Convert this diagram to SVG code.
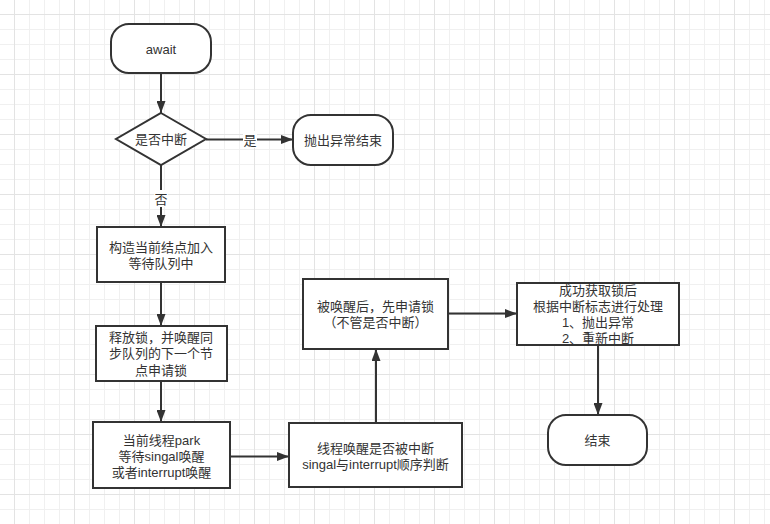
<svg xmlns="http://www.w3.org/2000/svg" width="770" height="524" viewBox="0 0 770 524">
  <defs>
    <pattern id="minor" patternUnits="userSpaceOnUse" x="14" y="14" width="15" height="15">
      <path d="M0.5,0 V15 M0,0.5 H15" stroke="#f0f0f0" stroke-width="1" fill="none"/>
    </pattern>
    <pattern id="major" patternUnits="userSpaceOnUse" x="14" y="14" width="60" height="60">
      <path d="M0.5,0 V60 M0,0.5 H60" stroke="#e3e3e3" stroke-width="1" fill="none"/>
    </pattern>
    <marker id="arrow" markerUnits="userSpaceOnUse" markerWidth="12" markerHeight="9" refX="12" refY="4.5" orient="auto">
      <path d="M0,0 L12,4.5 L0,9 z" fill="#333333"/>
    </marker>
  </defs>
  <style>
    .node { fill: #ffffff; stroke: #333333; stroke-width: 2; }
    .edge { fill: none; stroke: #333333; stroke-width: 2; marker-end: url(#arrow); }
    text { font-family: "Liberation Sans", "Noto Sans CJK SC", sans-serif; font-size: 13px; fill: #333333; text-anchor: middle; dominant-baseline: central; }
    .lbl { fill: #ffffff; stroke: none; }
  </style>

  <rect x="0" y="0" width="770" height="524" fill="#ffffff"/>
  <rect x="0" y="0" width="770" height="524" fill="url(#minor)"/>
  <rect x="0" y="0" width="770" height="524" fill="url(#major)"/>

  <g id="connectors">
    <path class="edge" d="M161,73 V113"/>
    <path class="edge" d="M206,139.5 H293"/>
    <path class="edge" d="M161,165 V227"/>
    <path class="edge" d="M161,282 V326"/>
    <path class="edge" d="M161,381 V422"/>
    <path class="edge" d="M230,456.5 H289"/>
    <path class="edge" d="M376,423 V349"/>
    <path class="edge" d="M448,313.5 H517"/>
    <path class="edge" d="M598,345 V415"/>
    <rect class="lbl" x="243" y="131" width="14" height="17"/>
    <text x="250" y="140">是</text>
    <rect class="lbl" x="154" y="190" width="14" height="17"/>
    <text x="161" y="199">否</text>
  </g>

  <g id="await">
    <rect class="node" x="111" y="24" width="100" height="49" rx="18" ry="18"/>
    <text x="161" y="49">await</text>
  </g>

  <g id="decision">
    <path class="node" d="M161,113 L206,139 L161,165 L116,139 Z"/>
    <text x="161" y="139.5">是否中断</text>
  </g>

  <g id="throw-end">
    <rect class="node" x="293" y="115" width="100" height="50" rx="18" ry="18"/>
    <text x="343" y="140">抛出异常结束</text>
  </g>

  <g id="enqueue">
    <rect class="node" x="97" y="227" width="128" height="55"/>
    <text x="161" y="247">构造当前结点加入</text>
    <text x="161" y="263">等待队列中</text>
  </g>

  <g id="release">
    <rect class="node" x="96" y="326" width="131" height="55"/>
    <text x="161" y="337">释放锁，并唤醒同</text>
    <text x="161" y="353.5">步队列的下一个节</text>
    <text x="161" y="370">点申请锁</text>
  </g>

  <g id="park">
    <rect class="node" x="93" y="422" width="137" height="66"/>
    <text x="161.5" y="440">当前线程park</text>
    <text x="161.5" y="456.5">等待singal唤醒</text>
    <text x="161.5" y="472.5">或者interrupt唤醒</text>
  </g>

  <g id="check-interrupt">
    <rect class="node" x="289" y="423" width="173" height="64"/>
    <text x="375.5" y="448.5">线程唤醒是否被中断</text>
    <text x="375.5" y="464.5">singal与interrupt顺序判断</text>
  </g>

  <g id="reacquire">
    <rect class="node" x="303" y="279" width="145" height="70"/>
    <text x="375.5" y="306.5">被唤醒后，先申请锁</text>
    <text x="375.5" y="322.5">（不管是否中断）</text>
  </g>

  <g id="handle">
    <rect class="node" x="517" y="283" width="162" height="62"/>
    <text x="598" y="290.5">成功获取锁后</text>
    <text x="598" y="306.5">根据中断标志进行处理</text>
    <text x="598" y="322.5">1、抛出异常</text>
    <text x="598" y="338.5">2、重新中断</text>
  </g>

  <g id="end">
    <rect class="node" x="548" y="415" width="99" height="50" rx="18" ry="18"/>
    <text x="597.5" y="440">结束</text>
  </g>
</svg>
